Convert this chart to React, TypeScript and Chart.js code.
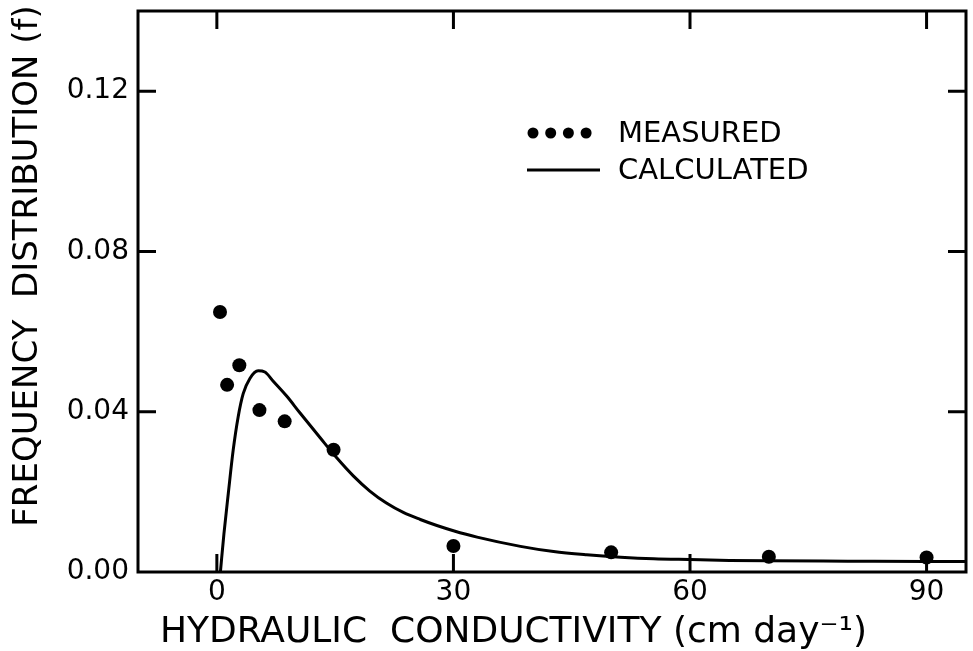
import React, { useEffect, useRef } from "react";
import { Chart, registerables } from "chart.js";

Chart.register(...registerables);

// ---- data ----
const measuredX = [0.4, 1.3, 2.85, 5.4, 8.6, 14.8, 30, 50, 70, 90];
const measuredY = [0.0649, 0.0467, 0.0516, 0.0404, 0.0376, 0.0305, 0.0065, 0.0049, 0.0038, 0.0036];

const calculatedX = [0.45, 0.9, 1.45, 2.07, 2.7, 3.34, 4.19, 5.24, 6.09, 7.15, 8.85, 10.5, 13.1, 15.2, 17.3, 19.4, 21.5, 23.7, 25.8, 27.9, 30, 33, 38.5, 42.7, 46.9, 51.2, 55.4, 60, 65, 70, 80, 90, 95];
const calculatedY = [0, 0.0096, 0.0196, 0.0304, 0.0387, 0.0445, 0.0483, 0.0502, 0.0499, 0.0476, 0.0439, 0.0398, 0.0335, 0.0285, 0.0240, 0.0202, 0.0172, 0.0148, 0.0131, 0.0116, 0.0103, 0.0087, 0.0064, 0.0051, 0.0043, 0.0037, 0.0033, 0.0031, 0.0029, 0.0028, 0.0027, 0.0026, 0.0026];

const xTickValues = [0, 30, 60, 90];
const yTickValues = [0, 0.04, 0.08, 0.12];
const xTitle = "HYDRAULIC  CONDUCTIVITY (cm day\u207B\u00B9)";
const yTitle = "FREQUENCY  DISTRIBUTION (f)";
const seriesLabels = ["MEASURED", "CALCULATED"];

const FONT = "'DejaVu Sans', sans-serif";

const decorPlugin = {
  id: "decor",
  afterDraw(chart: any) {
    const { ctx, chartArea: a, scales } = chart;
    const x = scales.x;
    const y = scales.y;
    ctx.save();
    ctx.strokeStyle = "#000";
    ctx.fillStyle = "#000";
    ctx.lineWidth = 3;
    ctx.lineCap = "butt";
    // frame
    ctx.strokeRect(a.left, a.top, a.right - a.left, a.bottom - a.top);
    // inward ticks on all four sides
    const L = 18;
    ctx.beginPath();
    x.ticks.forEach((t: any) => {
      const px = x.getPixelForValue(t.value);
      if (px <= a.left + 2 || px >= a.right - 2) return;
      ctx.moveTo(px, a.bottom);
      ctx.lineTo(px, a.bottom - L);
      ctx.moveTo(px, a.top);
      ctx.lineTo(px, a.top + L);
    });
    y.ticks.forEach((t: any) => {
      const py = y.getPixelForValue(t.value);
      if (py <= a.top + 2 || py >= a.bottom - 2) return;
      ctx.moveTo(a.left, py);
      ctx.lineTo(a.left + L, py);
      ctx.moveTo(a.right, py);
      ctx.lineTo(a.right - L, py);
    });
    ctx.stroke();

    // axis titles
    ctx.font = `36px ${FONT}`;
    ctx.textAlign = "left";
    ctx.textBaseline = "alphabetic";
    ctx.fillText(xTitle, 160, 642);

    ctx.save();
    ctx.font = `34px ${FONT}`;
    ctx.translate(37, 266);
    ctx.rotate(-Math.PI / 2);
    ctx.textAlign = "center";
    ctx.fillText(yTitle, 0, 0);
    ctx.restore();

    // legend
    const ds = chart.data.datasets;
    const lx = a.left + 389;
    const ly1 = a.top + 122;
    const ly2 = a.top + 159;
    ctx.fillStyle = ds[0].backgroundColor;
    for (let i = 0; i < 4; i++) {
      ctx.beginPath();
      ctx.arc(lx + 6 + i * 17.7, ly1, 5.5, 0, Math.PI * 2);
      ctx.fill();
    }
    ctx.strokeStyle = ds[1].borderColor;
    ctx.lineWidth = 3;
    ctx.beginPath();
    ctx.moveTo(lx, ly2);
    ctx.lineTo(lx + 73, ly2);
    ctx.stroke();
    ctx.fillStyle = "#000";
    ctx.font = `29px ${FONT}`;
    ctx.textBaseline = "middle";
    ctx.textAlign = "left";
    ctx.fillText(ds[0].label, lx + 91, ly1 + 1);
    ctx.fillText(ds[1].label, lx + 91, ly2 + 1);
    ctx.restore();
  },
};

export default function App() {
  const ref = useRef<HTMLCanvasElement | null>(null);

  useEffect(() => {
    if (!ref.current) return;
    const chart = new Chart(ref.current, {
      type: "scatter",
      data: {
        datasets: [
          {
            label: seriesLabels[0],
            data: measuredX.map((v, i) => ({ x: v, y: measuredY[i] })),
            showLine: false,
            pointRadius: 7,
            pointHoverRadius: 7,
            backgroundColor: "#000",
            borderColor: "#000",
            borderWidth: 0,
          },
          {
            label: seriesLabels[1],
            data: calculatedX.map((v, i) => ({ x: v, y: calculatedY[i] })),
            showLine: true,
            pointRadius: 0,
            borderColor: "#000",
            backgroundColor: "#000",
            borderWidth: 3,
            cubicInterpolationMode: "monotone",
          },
        ],
      },
      options: {
        animation: false,
        responsive: false,
        devicePixelRatio: 1,
        layout: { padding: { top: 11, right: 6, left: 0, bottom: 0 } },
        plugins: { legend: { display: false }, tooltip: { enabled: false } },
        scales: {
          x: {
            type: "linear",
            min: -10,
            max: 95,
            border: { display: false },
            grid: { display: false, drawTicks: false },
            afterBuildTicks: (s: any) => {
              s.ticks = xTickValues.map((v) => ({ value: v }));
            },
            afterFit: (s: any) => {
              s.height = 79;
              s.paddingLeft = 0;
              s.paddingRight = 0;
            },
            ticks: {
              padding: 4,
              color: "#000",
              font: { family: FONT, size: 28 },
              callback: (v: any) => String(v),
            },
          },
          y: {
            type: "linear",
            min: 0,
            max: 0.14,
            border: { display: false },
            grid: { display: false, drawTicks: false },
            afterBuildTicks: (s: any) => {
              s.ticks = yTickValues.map((v) => ({ value: v }));
            },
            afterFit: (s: any) => {
              s.width = 138;
              s.paddingTop = 0;
              s.paddingBottom = 0;
            },
            ticks: {
              padding: 9,
              color: "#000",
              font: { family: FONT, size: 28 },
              callback: (v: any) => Number(v).toFixed(2),
            },
          },
        },
      },
      plugins: [decorPlugin],
    });
    return () => chart.destroy();
  }, []);

  return (
    <div style={{ position: "absolute", left: 0, top: 0, width: 973, height: 651, background: "#fff" }}>
      <canvas ref={ref} width={973} height={651} style={{ display: "block" }} />
    </div>
  );
}
